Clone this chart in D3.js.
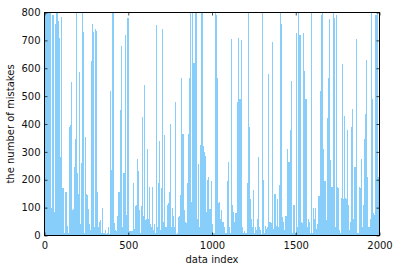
<!DOCTYPE html>
<html>
<head>
<meta charset="utf-8">
<script src="https://cdnjs.cloudflare.com/ajax/libs/d3/7.8.5/d3.min.js"></script>
<style>
  html, body { margin: 0; padding: 0; background: #fff; }
  svg { display: block; }
  text { font-family: "DejaVu Sans", sans-serif; fill: #111; }
</style>
</head>
<body>
<div id="chart"></div>
<script>
// one value per pixel column of the plot
var mistakes = [
  800,800,800,800,800,800,100,790,790,85,760,800,800,770,710,280,785,170,170,10,155,155,35,10,390,395,550,90,95,245,345,800,225,150,585,40,260,800,730,10,355,150,145,95,40,20,625,760,730,30,740,735,155,30,50,55,10,100,10,10,20,5,10,30,5,520,235,800,800,45,20,15,70,155,155,450,680,30,225,225,720,75,780,780,15,
  15,15,15,190,25,105,110,275,230,90,10,105,425,70,540,55,60,310,60,175,40,30,175,20,40,10,755,30,190,340,20,170,740,50,360,30,30,110,115,155,400,30,100,70,30,480,5,10,65,70,145,565,365,365,90,50,45,190,365,565,800,120,800,620,620,800,800,60,255,30,325,800,800,320,300,285,85,200,210,95,95,195,40,10,10,800,790,565,115,120,60,90,50,50,30,10,10,195,265,30,10,705,110,85,50,80,80,480,710,490,490,700,30,10,15,10,10,190,800,390,130,60,30,165,10,30,20,60,
  280,30,20,5,800,200,10,35,25,30,580,50,50,45,695,25,150,150,35,130,30,180,800,760,65,50,20,70,70,310,265,265,380,555,10,110,110,10,725,30,800,720,720,50,45,725,590,490,490,30,60,50,10,800,10,100,60,100,25,40,140,140,520,790,800,310,195,195,55,420,565,775,270,175,175,800,780,30,790,175,170,20,10,135,615,130,430,135,130,380,110,20,50,390,455,60,245,245,705,10,10,175,170,275,30,110,345,435,630,210,30,30,60,800,490,80,75,790,790,800,210,80
];
var xTicks = [0, 500, 1000, 1500, 2000];
var yTicks = [0, 100, 200, 300, 400, 500, 600, 700, 800];

var margin = {top: 12.5, right: 18.5, bottom: 35.5, left: 44.5},
    width = 398 - margin.left - margin.right,
    height = 271 - margin.top - margin.bottom;

var svg = d3.select("#chart").append("svg")
    .attr("width", 398)
    .attr("height", 271);

var g = svg.append("g")
    .attr("transform", "translate(" + margin.left + "," + margin.top + ")");

var x = d3.scaleLinear().domain([0, 2000]).range([0, width]);
var y = d3.scaleLinear().domain([0, 800]).range([height, 0]);

var indexStep = 2000 / mistakes.length;

g.append("g")
  .selectAll("rect")
  .data(mistakes)
  .enter().append("rect")
    .attr("x", function(d, i) { return x(i * indexStep); })
    .attr("y", function(d) { return y(d); })
    .attr("width", x(indexStep) - x(0))
    .attr("height", function(d) { return height - y(d); })
    .attr("fill", "#87cefa")
    .attr("shape-rendering", "crispEdges");

// ticks point inward on all four sides
function styleAxis(sel) {
  sel.select(".domain").remove();
  sel.selectAll("line").attr("stroke", "#000").attr("stroke-width", 0.7);
  sel.selectAll("text").attr("font-size", 10).attr("font-family", "DejaVu Sans");
}

g.append("g")
    .attr("transform", "translate(0," + height + ")")
    .call(d3.axisBottom(x).tickValues(xTicks).tickFormat(d3.format("d")).tickSizeInner(-3).tickPadding(6.5))
    .call(styleAxis);
g.append("g")
    .call(d3.axisTop(x).tickValues(xTicks).tickSizeInner(-3).tickFormat(""))
    .call(styleAxis);
g.append("g")
    .call(d3.axisLeft(y).tickValues(yTicks).tickFormat(d3.format("d")).tickSizeInner(-3).tickPadding(4))
    .call(styleAxis);
g.append("g")
    .attr("transform", "translate(" + width + ",0)")
    .call(d3.axisRight(y).tickValues(yTicks).tickSizeInner(-3).tickFormat(""))
    .call(styleAxis);

g.append("rect")
    .attr("width", width)
    .attr("height", height)
    .attr("fill", "none")
    .attr("stroke", "#000")
    .attr("stroke-width", 1);

g.append("text")
    .attr("x", width / 2)
    .attr("y", height + 27)
    .attr("text-anchor", "middle")
    .attr("font-size", 10)
    .text("data index");

g.append("text")
    .attr("transform", "translate(-30.5," + (height / 2) + ") rotate(-90)")
    .attr("text-anchor", "middle")
    .attr("font-size", 10)
    .text("the number of mistakes");
</script>
</body>
</html>
